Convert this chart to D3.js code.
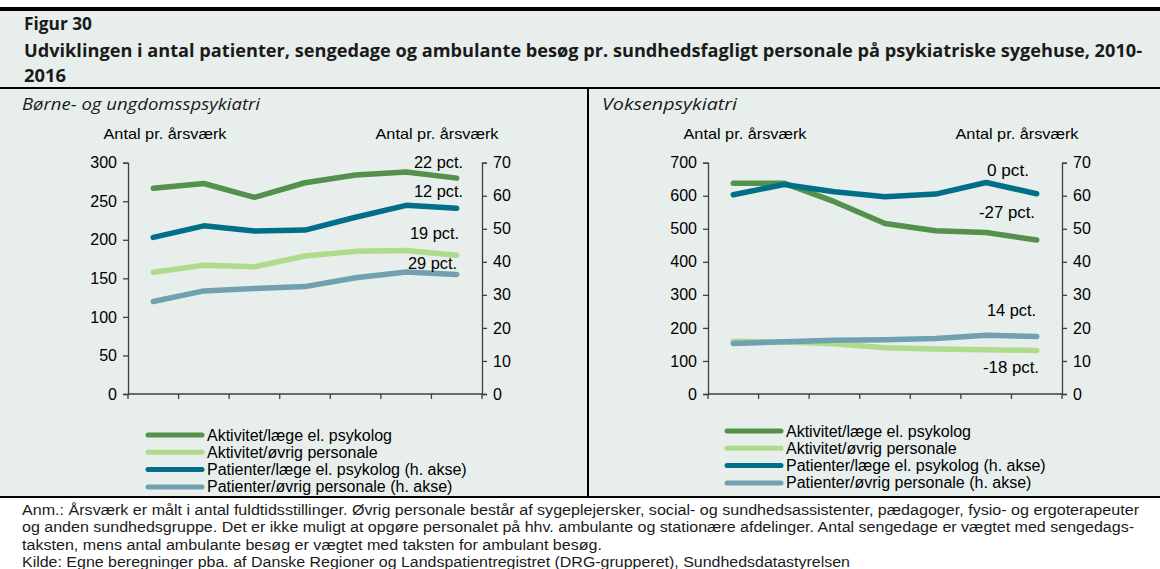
<!DOCTYPE html>
<html>
<head>
<meta charset="utf-8">
<script src="https://cdn.jsdelivr.net/npm/d3@7"></script>
<style>
  body { margin: 0; background: #fff; }
  svg { display: block; }
  .tick text { font-family: "Liberation Sans", Arial, sans-serif; font-size: 16px; fill: #000; }
  .domain, .tick line { stroke: #404040; stroke-width: 1.3px; }
</style>
</head>
<body>
<svg id="chart" width="1160" height="569"></svg>
<script>
'use strict';

const years = [2010, 2011, 2012, 2013, 2014, 2015, 2016];
const seriesNames = [
  "Aktivitet/læge el. psykolog",
  "Aktivitet/øvrig personale",
  "Patienter/læge el. psykolog (h. akse)",
  "Patienter/øvrig personale (h. akse)"
];
const seriesColors = ["#53914d", "#aedc8c", "#006f87", "#70a1b1"];

// Børne- og ungdomspsykiatri
const buAktLaege = [267, 273, 255, 274, 284, 288, 280];
const buAktOevrig = [158, 167, 165, 179, 185, 186, 180];
const buPatLaege = [47.4, 50.9, 49.3, 49.6, 53.5, 57.1, 56.2];
const buPatOevrig = [28.0, 31.2, 31.9, 32.5, 35.2, 36.9, 36.2];

// Voksenpsykiatri
const vpAktLaege = [638, 638, 582, 516, 494, 489, 466];
const vpAktOevrig = [160, 157, 152, 140, 136, 134, 132];
const vpPatLaege = [60.3, 63.4, 61.2, 59.7, 60.5, 64.0, 60.6];
const vpPatOevrig = [15.3, 15.8, 16.3, 16.4, 16.8, 17.8, 17.4];

const buLabels = ["22 pct.", "12 pct.", "19 pct.", "29 pct."];
const vpLabels = ["0 pct.", "-27 pct.", "14 pct.", "-18 pct."];

const svg = d3.select("#chart");
const fontSans = "'Liberation Sans', Arial, sans-serif";
const fontTitle = "'Open Sans', 'Liberation Sans', sans-serif";

// background panel
svg.append("rect").attr("x", 0).attr("y", 9).attr("width", 1160).attr("height", 488).attr("fill", "#e8eeec");
svg.append("rect").attr("x", 0).attr("y", 7).attr("width", 1160).attr("height", 4).attr("fill", "#000");
svg.append("rect").attr("x", 0).attr("y", 87).attr("width", 1160).attr("height", 2).attr("fill", "#000");
svg.append("rect").attr("x", 0).attr("y", 496).attr("width", 1160).attr("height", 2).attr("fill", "#000");
svg.append("rect").attr("x", 587).attr("y", 88).attr("width", 2).attr("height", 409).attr("fill", "#000");

// title
const title = svg.append("g").attr("font-family", fontTitle).attr("font-weight", "bold").attr("font-size", 17).attr("fill", "#1a1a1a");
title.append("text").attr("x", 24).attr("y", 30).attr("textLength", 68).attr("lengthAdjust", "spacingAndGlyphs").text("Figur 30");
title.append("text").attr("x", 24).attr("y", 57)
  .attr("textLength", 1118).attr("lengthAdjust", "spacingAndGlyphs")
  .text("Udviklingen i antal patienter, sengedage og ambulante besøg pr. sundhedsfagligt personale på psykiatriske sygehuse, 2010-");
title.append("text").attr("x", 24).attr("y", 82).attr("textLength", 42).attr("lengthAdjust", "spacingAndGlyphs").text("2016");

function drawPanel(ox, subtitle, subLen, leftMax, leftTicks, aktLaege, aktOevrig, patLaege, patOevrig, labels, labelPos, legendX, legendY) {
  const g = svg.append("g");
  g.append("text").attr("x", ox + 22).attr("y", 110)
    .attr("font-family", fontTitle).attr("font-style", "italic").attr("font-size", 17).attr("fill", "#1a1a1a")
    .attr("textLength", subLen).attr("lengthAdjust", "spacingAndGlyphs")
    .text(subtitle);

  const x0 = ox + 128, x1 = ox + 482, yTop = 162.7, yBot = 394;
  const x = d3.scaleBand().domain(years).range([x0, x1]);
  const yL = d3.scaleLinear().domain([0, leftMax]).range([yBot, yTop]);
  const yR = d3.scaleLinear().domain([0, 70]).range([yBot, yTop]);

  [165, 437].forEach(cxl => {
    g.append("text").attr("x", ox + cxl).attr("y", 139).attr("text-anchor", "middle")
      .attr("font-family", fontSans).attr("font-size", 15).attr("textLength", 123).attr("lengthAdjust", "spacingAndGlyphs")
      .text("Antal pr. årsværk");
  });

  g.append("g").attr("transform", `translate(${x0},0)`)
    .call(d3.axisLeft(yL).tickValues(leftTicks).tickSize(5).tickPadding(6).tickFormat(d3.format("d")));
  g.append("g").attr("transform", `translate(${x1},0)`)
    .call(d3.axisRight(yR).tickValues(d3.range(0, 71, 10)).tickSize(5).tickPadding(6).tickFormat(d3.format("d")));

  // x axis with ticks between categories
  const xa = g.append("g");
  xa.append("line").attr("x1", x0).attr("x2", x1).attr("y1", yBot).attr("y2", yBot).attr("stroke", "#404040").attr("stroke-width", 1.3);
  const edges = years.map(d => x(d)).concat([x1]);
  xa.selectAll("line.t").data(edges).join("line").attr("class", "t")
    .attr("x1", d => d).attr("x2", d => d).attr("y1", yBot).attr("y2", yBot + 5)
    .attr("stroke", "#404040").attr("stroke-width", 1.3);

  const cx = d => x(d) + x.bandwidth() / 2;
  const series = [
    { vals: aktLaege, y: yL, color: seriesColors[0] },
    { vals: aktOevrig, y: yL, color: seriesColors[1] },
    { vals: patLaege, y: yR, color: seriesColors[2] },
    { vals: patOevrig, y: yR, color: seriesColors[3] }
  ];
  const drawOrder = [1, 3, 0, 2];
  drawOrder.forEach(i => {
    const s = series[i];
    const line = d3.line().x((d, j) => cx(years[j])).y(d => s.y(d));
    g.append("path").datum(s.vals).attr("d", line)
      .attr("fill", "none").attr("stroke", s.color).attr("stroke-width", 5.5)
      .attr("stroke-linecap", "round").attr("stroke-linejoin", "round");
  });

  labels.forEach((t, i) => {
    g.append("text").attr("x", ox + labelPos[i][0]).attr("y", labelPos[i][1])
      .attr("text-anchor", "end").attr("font-family", fontSans).attr("font-size", 16)
      .attr("textLength", t.length * 7).attr("lengthAdjust", "spacingAndGlyphs")
      .text(t);
  });

  const lg = g.append("g").attr("transform", `translate(${legendX},${legendY})`);
  seriesNames.forEach((n, i) => {
    const yy = i * 17.3;
    lg.append("line").attr("x1", 0).attr("x2", 54).attr("y1", yy).attr("y2", yy)
      .attr("stroke", seriesColors[i]).attr("stroke-width", 5).attr("stroke-linecap", "round");
    lg.append("text").attr("x", 59).attr("y", yy + 5.5).attr("font-family", fontSans).attr("font-size", 16)
      .text(n);
  });
}

drawPanel(0, "Børne- og ungdomsspsykiatri", 238, 300, d3.range(0, 301, 50),
  buAktLaege, buAktOevrig, buPatLaege, buPatOevrig, buLabels,
  [[463, 168], [463, 197], [459, 239], [457, 269]], 148, 435);

drawPanel(580, "Voksenpsykiatri", 135, 700, d3.range(0, 701, 100),
  vpAktLaege, vpAktOevrig, vpPatLaege, vpPatOevrig, vpLabels,
  [[449, 176], [455, 218], [456, 316], [459, 373]], 727, 431);

// footnote
const notes = [
  "Anm.: Årsværk er målt i antal fuldtidsstillinger. Øvrig personale består af sygeplejersker, social- og sundhedsassistenter, pædagoger, fysio- og ergoterapeuter",
  "og anden sundhedsgruppe. Det er ikke muligt at opgøre personalet på hhv. ambulante og stationære afdelinger. Antal sengedage er vægtet med sengedags-",
  "taksten, mens antal ambulante besøg er vægtet med taksten for ambulant besøg.",
  "Kilde: Egne beregninger pba. af Danske Regioner og Landspatientregistret (DRG-grupperet), Sundhedsdatastyrelsen"
];
const noteLen = [1117, 1112, 580, 828];
notes.forEach((t, i) => {
  svg.append("text").attr("x", 22).attr("y", 515 + i * 17.3)
    .attr("font-family", fontSans).attr("font-size", 14).attr("fill", "#1a1a1a")
    .attr("textLength", noteLen[i]).attr("lengthAdjust", "spacingAndGlyphs")
    .text(t);
});
</script>
</body>
</html>
